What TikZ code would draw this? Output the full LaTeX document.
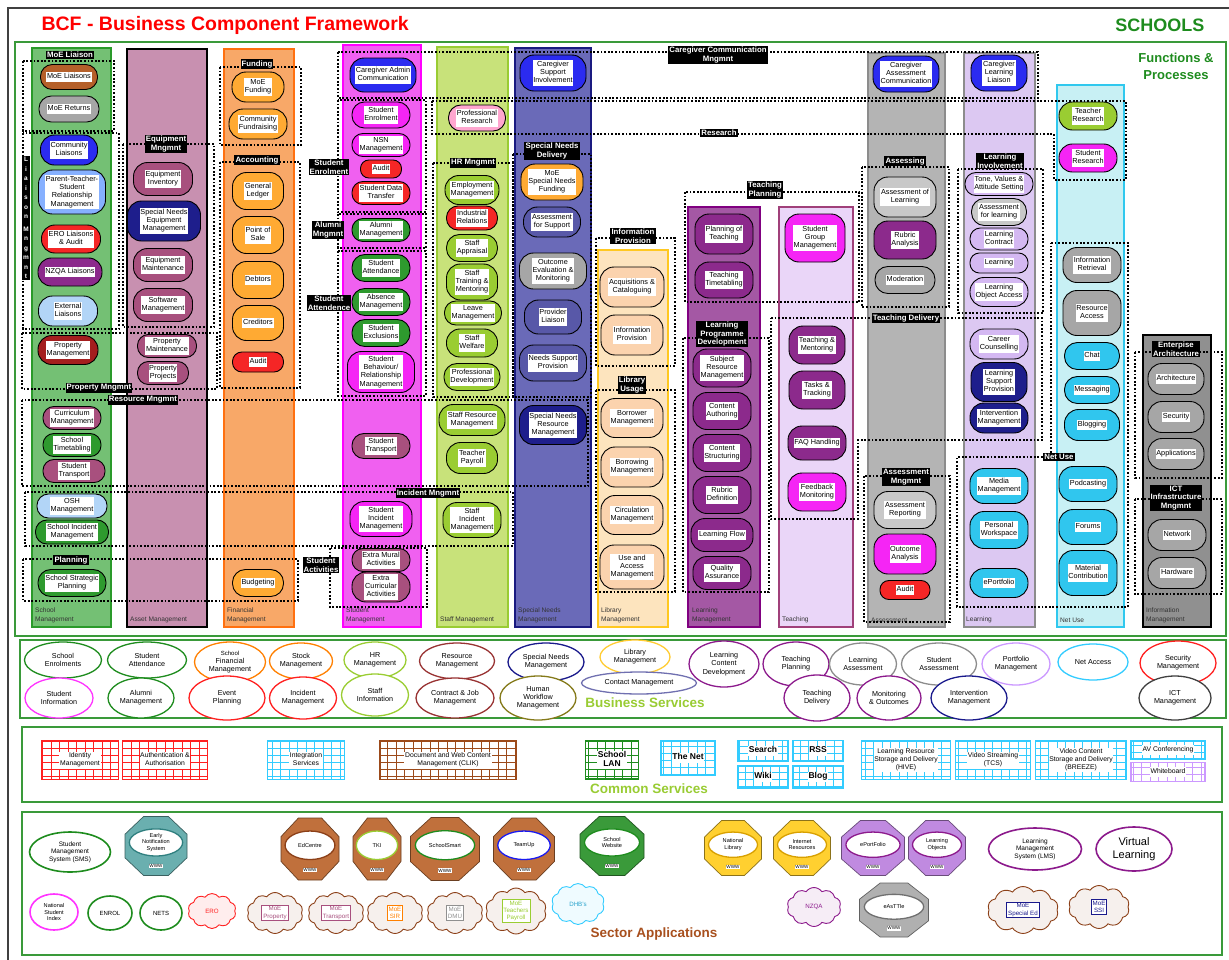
\documentclass[tikz,border=0pt]{standalone}
\usepackage{fontspec}
\setmainfont{Liberation Sans}
\usetikzlibrary{shapes.misc,shapes.geometric,shapes.symbols}

% ---------- palette ----------
\definecolor{pBrown}{HTML}{B5602A}
\definecolor{pGray}{HTML}{A6A6A6}
\definecolor{pGrayL}{HTML}{C8C8C8}
\definecolor{pBlue}{HTML}{2B2BF0}
\definecolor{pLtBlue}{HTML}{86B0FF}
\definecolor{pSky}{HTML}{B2D5F7}
\definecolor{pRed}{HTML}{F52626}
\definecolor{pPurple}{HTML}{8C2A8C}
\definecolor{pMauve}{HTML}{A8507E}
\definecolor{pDarkRed}{HTML}{A41E1E}
\definecolor{pGreen}{HTML}{2E9A2E}
\definecolor{pNavy}{HTML}{1E1E8C}
\definecolor{pNavyL}{HTML}{5858A8}
\definecolor{pOrange}{HTML}{FFAA33}
\definecolor{pMagenta}{HTML}{F525F5}
\definecolor{pYG}{HTML}{9ACD32}
\definecolor{pPink}{HTML}{FFA6CF}
\definecolor{pPeach}{HTML}{FBD3AE}
\definecolor{pLav}{HTML}{D4B8F2}
\definecolor{pCyan}{HTML}{30C6EE}
% column fills / borders
\definecolor{kGreenF}{HTML}{74C074}\definecolor{kGreenD}{HTML}{2A9A2A}
\definecolor{kAssetF}{HTML}{C890B0}
\definecolor{kFinF}{HTML}{F8A868}\definecolor{kFinD}{HTML}{FF7010}
\definecolor{kStudF}{HTML}{F060F0}\definecolor{kStudD}{HTML}{FF00FF}
\definecolor{kStaffF}{HTML}{C8E27A}\definecolor{kStaffD}{HTML}{99CC33}
\definecolor{kSNF}{HTML}{6A6AB8}\definecolor{kSND}{HTML}{1A1A80}
\definecolor{kLibF}{HTML}{FDE4BE}\definecolor{kLibD}{HTML}{FFC820}
\definecolor{kLMF}{HTML}{A458A4}\definecolor{kLMD}{HTML}{800080}
\definecolor{kTchF}{HTML}{EAD6F8}\definecolor{kTchD}{HTML}{A0407A}
\definecolor{kAsF}{HTML}{B4B4B4}\definecolor{kAsD}{HTML}{8C8C8C}
\definecolor{kLrnF}{HTML}{DCC8F2}
\definecolor{kNetF}{HTML}{C8F0F4}\definecolor{kNetD}{HTML}{30C8EE}
\definecolor{kInfF}{HTML}{909090}
% service borders
\definecolor{bGreen}{HTML}{1E8C1E}
\definecolor{bOrange}{HTML}{FF8000}
\definecolor{bYG}{HTML}{9ACD32}
\definecolor{bDarkRed}{HTML}{993333}
\definecolor{bNavy}{HTML}{1A1A8C}
\definecolor{bGold}{HTML}{FFCC33}
\definecolor{bPurple}{HTML}{8C1A8C}
\definecolor{bGray}{HTML}{8C8C8C}
\definecolor{bLav}{HTML}{CC99FF}
\definecolor{bCyan}{HTML}{33CCFF}
\definecolor{bRed}{HTML}{FF2020}
\definecolor{bMagenta}{HTML}{FF33FF}
\definecolor{bOlive}{HTML}{857A1A}
\definecolor{bSlate}{HTML}{7070B0}
\definecolor{bBlack}{HTML}{404040}
\definecolor{bBlue}{HTML}{1A1AF0}
\definecolor{bBrown}{HTML}{9C4A1A}
\definecolor{bMauve}{HTML}{A8507E}
\definecolor{bGrayT}{HTML}{909090}
% sector application fills
\definecolor{sBrown}{HTML}{C0703C}\definecolor{sBrownD}{HTML}{8C4018}
\definecolor{sTeal}{HTML}{6AAFAF}\definecolor{sTealD}{HTML}{2F7F7F}
\definecolor{sGreen}{HTML}{3A9A3A}
\definecolor{sGold}{HTML}{FFD030}\definecolor{sGoldD}{HTML}{D8A000}
\definecolor{sPurp}{HTML}{C08AE0}
\definecolor{sGray}{HTML}{B0B0B0}\definecolor{sGrayD}{HTML}{707070}
% titles and frames
\definecolor{tGreen}{HTML}{1E8C1E}
\definecolor{tYG}{HTML}{99CC33}
\definecolor{tBrown}{HTML}{A8501E}
\definecolor{fGreen}{HTML}{3A9A3A}

% ---------- helpers ----------
\newcommand\wb[1]{{\setlength\fboxsep{0.7pt}\colorbox{white}{\begin{tabular}{@{}c@{}}#1\end{tabular}}}}
\newcommand\pl[6]{\pgfmathsetmacro\rr{min(#4/2-0.6,14)}%
  \node[pill,fill=#5,minimum width=#3pt,minimum height=#4pt,rounded corners=\rr pt] (#1) at (#2) {\wb{#6}};}
\newcommand\tg[3]{\node[tag] (#1) at (#2) {#3};}
\newcommand\bsv[6]{\node[bsvc,draw=#5,minimum width=#3pt,minimum height=#4pt] (#1) at (#2) {#6};}
\newcommand\csb[6]{\node[csv,draw=#5,minimum width=#3pt,minimum height=#4pt,
  path picture={\draw[#5,line width=0.5pt] (path picture bounding box.south west) grid[xstep=8.5pt,ystep=7pt] (path picture bounding box.north east);}]
  (#1) at (#2) {\wb{#6}};}
\newcommand\octo[7]{%
  \begin{scope}[shift={(#2)}]
    \draw[fill=#5,draw=#5!55!black,line width=0.7pt]
      (-0.2*#3,-0.5*#4) -- (0.2*#3,-0.5*#4) -- (0.5*#3,-0.2*#4) -- (0.5*#3,0.2*#4)
      -- (0.2*#3,0.5*#4) -- (-0.2*#3,0.5*#4) -- (-0.5*#3,0.2*#4) -- (-0.5*#3,-0.2*#4) -- cycle;
    \node[appin,draw=#6,minimum width={0.86*#3},minimum height={0.46*#4}] (#1) at (0,-0.06*#4) {#7};
    \node[www] (#1w) at (0,0.34*#4) {WWW};
  \end{scope}}
\newcommand\clab[3]{\node[collab] (#1) at (#2) {#3};}

\tikzset{
  pill/.style={rectangle,draw=black,line width=0.9pt,inner sep=1pt,
    font=\fontsize{7.3}{8.3}\selectfont},
  colbox/.style={line width=1.8pt},
  grp/.style={draw=black,line width=1.2pt,dash pattern=on 1.8pt off 1.8pt},
  tag/.style={fill=black,text=white,font=\bfseries\fontsize{7.8}{8.6}\selectfont,
    inner sep=1.1pt,align=center},
  collab/.style={anchor=south west,align=left,inner sep=0pt,text=black!80,
    font=\fontsize{6.6}{8.6}\selectfont},
  bsvc/.style={ellipse,line width=1.3pt,fill=white,inner sep=0pt,align=center,
    font=\fontsize{7.2}{8.2}\selectfont},
  csv/.style={rectangle,line width=1.1pt,fill=white,inner sep=1pt,align=center,
    font=\fontsize{6.8}{7.8}\selectfont},
  frame/.style={draw=fGreen,line width=1.6pt},
  sectitle/.style={font=\bfseries\fontsize{13.5}{15}\selectfont},
  sapp/.style={ellipse,line width=1.6pt,fill=white,inner sep=0pt,align=center,
    font=\fontsize{6.5}{7.5}\selectfont},
  appin/.style={ellipse,fill=white,line width=1.3pt,inner sep=0pt,align=center,
    font=\fontsize{5.6}{6.4}\selectfont},
  www/.style={fill=white,inner sep=0.6pt,font=\fontsize{4.6}{5}\selectfont},
  cld/.style={cloud,cloud puffs=10,cloud puff arc=110,cloud ignores aspect,line width=0.9pt,inner sep=0pt,
    align=center,font=\fontsize{6.2}{7.2}\selectfont},
  cin/.style={rectangle,fill=white,line width=0.8pt,inner sep=1.4pt,align=center,
    font=\fontsize{6.2}{7.2}\selectfont},
}

\begin{document}
\begin{tikzpicture}[x=1pt,y=-1pt]
\useasboundingbox (0,0) rectangle (1229,959);
\fill[white] (0,0) rectangle (1229,959);
\draw[line width=1.2pt,black!75] (8,8) rectangle (1245,975);

% ---------- headings ----------
\node[anchor=west,text=red,font=\bfseries\fontsize{19.5}{21}\selectfont] (title) at (38,25) {BCF - Business Component Framework};
\node[anchor=east,text=tGreen,font=\bfseries\fontsize{18}{20}\selectfont] (schools) at (1208,25) {SCHOOLS};

% ---------- section frames ----------
\draw[frame] (15,42) rectangle (1226,636);
\draw[frame] (20,640) rectangle (1226,718);
\draw[frame] (22,727) rectangle (1222,802);
\draw[frame] (22,812) rectangle (1222,955);
\node[align=center,text=tGreen,font=\bfseries\fontsize{13}{17}\selectfont] (fp) at (1176,66) {Functions \&\\Processes};

% ---------- function columns ----------
\draw[colbox,draw=kGreenD,fill=kGreenF] (32,48) rectangle (111,627);
\draw[colbox,draw=black,fill=kAssetF] (127,49) rectangle (207,627);
\draw[colbox,draw=kFinD,fill=kFinF] (224,49) rectangle (294,627);
\draw[colbox,draw=kStudD,fill=kStudF] (343,45) rectangle (421,627);
\draw[colbox,draw=kStaffD,fill=kStaffF] (437,47) rectangle (508,627);
\draw[colbox,draw=kSND,fill=kSNF] (515,48) rectangle (591,627);
\draw[colbox,draw=kLibD,fill=kLibF] (598,250) rectangle (668,627);
\draw[colbox,draw=kLMD,fill=kLMF] (688,207) rectangle (760,627);
\draw[colbox,draw=kTchD,fill=kTchF] (779,207) rectangle (853,627);
\draw[colbox,draw=kAsD,fill=kAsF] (868,53) rectangle (945,627);
\draw[colbox,draw=kAsD,fill=kLrnF] (964,53) rectangle (1035,627);
\draw[colbox,draw=kNetD,fill=kNetF] (1057,85) rectangle (1124,627);
\draw[colbox,draw=black,fill=kInfF] (1143,335) rectangle (1211,627);

% column captions
\clab{lbSch}{35,623}{School\\Management}
\clab{lbAss}{130,623}{Asset Management}
\clab{lbFin}{227,623}{Financial\\Management}
\clab{lbStu}{346,623}{Student\\Management}
\clab{lbStf}{440,623}{Staff Management}
\clab{lbSN}{518,623}{Special Needs\\Management}
\clab{lbLib}{601,623}{Library\\Management}
\clab{lbLM}{692,623}{Learning\\Management}
\clab{lbTch}{782,623}{Teaching}
\clab{lbAsm}{871,623}{Assessment}
\clab{lbLrn}{966,623}{Learning}
\clab{lbNet}{1060,623}{Net Use}
\clab{lbInf}{1146,623}{Information\\Management}

% ---------- process groups ----------
\draw[grp] (23,61) rectangle (114,131);
\draw[grp] (23,133) rectangle (119,329);
\draw[grp] (123,144) rectangle (214,327);
\draw[grp] (22,333) rectangle (217,389);
\draw[grp] (22,400) rectangle (588,486);
\draw[grp] (25,492) rectangle (513,546);
\draw[grp] (23,559) rectangle (298,601);
\draw[grp] (220,67) rectangle (301,145);
\draw[grp] (220,162) rectangle (300,388);
\draw[grp] (338,52) rectangle (1038,98);
\draw[grp] (432,101) -- (1126,101) -- (1126,180) -- (1054,180) -- (1054,134) -- (432,134) -- cycle;
\draw[grp] (338,100) rectangle (426,212);
\draw[grp] (338,214) rectangle (426,248);
\draw[grp] (338,251) rectangle (426,396);
\draw[grp] (330,548) rectangle (427,607);
\draw[grp] (433,163) rectangle (513,397);
\draw[grp] (513,154) rectangle (591,397);
\draw[grp] (596,238) rectangle (675,366);
\draw[grp] (596,390) rectangle (675,592);
\draw[grp] (685,192) rectangle (859,302);
\draw[grp] (683,338) rectangle (769,592);
\draw[grp] (771,318) -- (1042,318) -- (1042,440) -- (858,440) -- (858,519) -- (771,519) -- cycle;
\draw[grp] (862,167) rectangle (949,307);
\draw[grp] (864,476) rectangle (950,622);
\draw[grp] (958,169) rectangle (1043,313);
\draw[grp] (1051,243) -- (1128,243) -- (1128,607) -- (957,607) -- (957,457) -- (1051,457) -- cycle;
\draw[grp] (1135,352) rectangle (1222,478);
\draw[grp] (1135,499) rectangle (1222,594);

% ---------- School Management ----------
\pl{moeL}{69,77}{57}{25}{pBrown}{MoE Liaisons}
\pl{moeR}{69,109}{60}{26}{pGray}{MoE Returns}
\pl{comL}{69,150}{57}{30}{pBlue}{Community\\Liaisons}
\pl{ptsr}{72,192}{67}{44}{pLtBlue}{Parent-Teacher-\\Student\\Relationship\\Management}
\pl{eroL}{71,239}{59}{28}{pRed}{ERO Liaisons\\\& Audit}
\pl{nzqaL}{70,272}{64}{28}{pPurple}{NZQA Liaisons}
\pl{extL}{68,311}{59}{30}{pSky}{External\\Liaisons}
\pl{propM}{68,350}{60}{29}{pDarkRed}{Property\\Management}
\pl{currM}{72,418}{58}{23}{pMauve}{Curriculum\\Management}
\pl{schTT}{72,445}{58}{23}{pGreen}{School\\Timetabling}
\pl{stTrA}{74,471}{62}{23}{pMauve}{Student\\Transport}
\pl{oshM}{72,506}{70}{24}{pSky}{OSH\\Management}
\pl{schInc}{72,532}{73}{24}{pGreen}{School Incident\\Management}
\pl{schSP}{72,583}{68}{27}{pGreen}{School Strategic\\Planning}

% ---------- Asset Management ----------
\pl{eqInv}{163,179}{59}{33}{pMauve}{Equipment\\Inventory}
\pl{snEq}{164,221}{73}{40}{pNavy}{Special Needs\\Equipment\\Management}
\pl{eqMnt}{163,265}{59}{33}{pMauve}{Equipment\\Maintenance}
\pl{swM}{163,305}{59}{33}{pMauve}{Software\\Management}
\pl{propMt}{167,346}{59}{23}{pMauve}{Property\\Maintenance}
\pl{propPj}{163,373}{51}{23}{pMauve}{Property\\Projects}

% ---------- Financial Management ----------
\pl{moeF}{258,87}{52}{30}{pOrange}{MoE\\Funding}
\pl{comF}{258,124}{58}{30}{pOrange}{Community\\Fundraising}
\pl{genL}{258,191}{51}{37}{pOrange}{General\\Ledger}
\pl{pos}{258,235}{51}{37}{pOrange}{Point of\\Sale}
\pl{debt}{258,280}{51}{37}{pOrange}{Debtors}
\pl{cred}{258,323}{51}{35}{pOrange}{Creditors}
\pl{audF}{258,362}{51}{20}{pRed}{Audit}
\pl{budg}{258,583}{51}{27}{pOrange}{Budgeting}

% ---------- Student Management ----------
\pl{cgAdm}{383,75}{66}{34}{pBlue}{Caregiver Admin\\Communication}
\pl{stEnr}{381,115}{58}{26}{pMagenta}{Student\\Enrolment}
\pl{nsn}{381,145}{58}{23}{pMagenta}{NSN\\Management}
\pl{audS}{381,169}{41}{18}{pRed}{Audit}
\pl{sdt}{381,193}{58}{23}{pRed}{Student Data\\Transfer}
\pl{alum}{381,230}{58}{23}{pGreen}{Alumni\\Management}
\pl{stAtt}{381,268}{58}{27}{pGreen}{Student\\Attendance}
\pl{abs}{381,302}{58}{27}{pGreen}{Absence\\Management}
\pl{excl}{381,333}{58}{27}{pGreen}{Student\\Exclusions}
\pl{behav}{381,372}{67}{41}{pMagenta}{Student\\Behaviour/\\Relationship\\Management}
\pl{stTrB}{381,446}{58}{25}{pMauve}{Student\\Transport}
\pl{stInc}{381,519}{62}{35}{pMagenta}{Student\\Incident\\Management}
\pl{xMural}{381,560}{58}{23}{pMauve}{Extra Mural\\Activities}
\pl{xCurr}{381,587}{58}{30}{pMauve}{Extra\\Curricular\\Activities}

% ---------- Staff Management ----------
\pl{profR}{477,118}{57}{26}{pPink}{Professional\\Research}
\pl{empM}{472,190}{54}{29}{pYG}{Employment\\Management}
\pl{indR}{472,218}{51}{24}{pRed}{Industrial\\Relations}
\pl{appr}{472,248}{51}{27}{pYG}{Staff\\Appraisal}
\pl{train}{472,282}{51}{36}{pYG}{Staff\\Training \&\\Mentoring}
\pl{leave}{473,313}{57}{24}{pYG}{Leave\\Management}
\pl{welf}{472,343}{51}{28}{pYG}{Staff\\Welfare}
\pl{profD}{472,377}{56}{27}{pYG}{Professional\\Development}
\pl{stRes}{472,420}{66}{31}{pYG}{Staff Resource\\Management}
\pl{payr}{472,458}{51}{31}{pYG}{Teacher\\Payroll}
\pl{stfInc}{472,520}{58}{35}{pYG}{Staff\\Incident\\Management}

% ---------- Special Needs Management ----------
\pl{cgSup}{553,73}{66}{36}{pBlue}{Caregiver\\Support\\Involvement}
\pl{moeSN}{552,182}{62}{36}{pOrange}{MoE\\Special Needs\\Funding}
\pl{asSup}{552,222}{57}{30}{pNavyL}{Assessment\\for Support}
\pl{outEv}{553,271}{67}{36}{pGray}{Outcome\\Evaluation \&\\Monitoring}
\pl{provL}{553,317}{57}{34}{pNavyL}{Provider\\Liaison}
\pl{needS}{553,363}{67}{36}{pNavyL}{Needs Support\\Provision}
\pl{snRes}{553,425}{67}{39}{pNavy}{Special Needs\\Resource\\Management}

% ---------- Library Management ----------
\pl{acq}{632,287}{64}{40}{pPeach}{Acquisitions \&\\Cataloguing}
\pl{infP}{632,335}{62}{40}{pPeach}{Information\\Provision}
\pl{borr}{632,418}{62}{39}{pPeach}{Borrower\\Management}
\pl{borw}{632,467}{62}{40}{pPeach}{Borrowing\\Management}
\pl{circ}{632,515}{62}{39}{pPeach}{Circulation\\Management}
\pl{useA}{632,567}{64}{44}{pPeach}{Use and\\Access\\Management}

% ---------- Learning Management ----------
\pl{plT}{724,234}{58}{40}{pPurple}{Planning of\\Teaching}
\pl{ttT}{724,280}{58}{36}{pPurple}{Teaching\\Timetabling}
\pl{subR}{722,368}{58}{38}{pPurple}{Subject\\Resource\\Management}
\pl{conA}{722,411}{58}{37}{pPurple}{Content\\Authoring}
\pl{conS}{722,453}{58}{37}{pPurple}{Content\\Structuring}
\pl{rubD}{722,495}{58}{37}{pPurple}{Rubric\\Definition}
\pl{lFlow}{722,535}{62}{33}{pPurple}{Learning Flow}
\pl{qa}{722,573}{58}{33}{pPurple}{Quality\\Assurance}

% ---------- Teaching ----------
\pl{sgm}{815,238}{60}{48}{pMagenta}{Student\\Group\\Management}
\pl{tMent}{817,345}{56}{38}{pPurple}{Teaching \&\\Mentoring}
\pl{tTrack}{817,390}{56}{38}{pPurple}{Tasks \&\\Tracking}
\pl{faq}{817,443}{58}{34}{pPurple}{FAQ Handling}
\pl{feed}{817,492}{58}{38}{pMagenta}{Feedback\\Monitoring}

% ---------- Assessment ----------
\pl{cgAss}{906,74}{66}{36}{pBlue}{Caregiver\\Assessment\\Communication}
\pl{assL}{905,197}{62}{40}{pGrayL}{Assessment of\\Learning}
\pl{rubA}{905,240}{62}{38}{pPurple}{Rubric\\Analysis}
\pl{mod}{905,280}{60}{27}{pGray}{Moderation}
\pl{assR}{905,510}{62}{37}{pGrayL}{Assessment\\Reporting}
\pl{outA}{905,554}{62}{40}{pMagenta}{Outcome\\Analysis}
\pl{audA}{905,590}{50}{19}{pRed}{Audit}

% ---------- Learning ----------
\pl{cgLL}{999,73}{56}{36}{pBlue}{Caregiver\\Learning\\Liaison}
\pl{tone}{999,184}{68}{23}{pLav}{Tone, Values \&\\Attitude Setting}
\pl{assFL}{999,212}{55}{27}{pGrayL}{Assessment\\for learning}
\pl{lCon}{999,239}{58}{22}{pLav}{Learning\\Contract}
\pl{lrn}{999,263}{58}{20}{pLav}{Learning}
\pl{loa}{999,292}{58}{29}{pLav}{Learning\\Object Access}
\pl{career}{999,344}{58}{30}{pLav}{Career\\Counselling}
\pl{lsp}{999,382}{56}{39}{pNavy}{Learning\\Support\\Provision}
\pl{intv}{999,418}{58}{30}{pNavy}{Intervention\\Management}
\pl{media}{999,486}{58}{35}{pCyan}{Media\\Management}
\pl{pws}{999,530}{58}{37}{pCyan}{Personal\\Workspace}
\pl{eport}{999,583}{58}{29}{pCyan}{ePortfolio}

% ---------- Net Use ----------
\pl{tRes}{1088,116}{58}{28}{pYG}{Teacher\\Research}
\pl{sRes}{1088,158}{58}{28}{pMagenta}{Student\\Research}
\pl{infR}{1092,265}{58}{35}{pGray}{Information\\Retrieval}
\pl{resA}{1092,313}{58}{45}{pGray}{Resource\\Access}
\pl{chat}{1092,356}{55}{27}{pCyan}{Chat}
\pl{msg}{1092,390}{55}{27}{pCyan}{Messaging}
\pl{blog}{1092,425}{55}{31}{pCyan}{Blogging}
\pl{pod}{1088,484}{58}{35}{pCyan}{Podcasting}
\pl{forum}{1088,527}{58}{35}{pCyan}{Forums}
\pl{matC}{1088,573}{58}{45}{pCyan}{Material\\Contribution}

% ---------- Information Management ----------
\pl{arch}{1176,379}{56}{31}{pGray}{Architecture}
\pl{secu}{1176,417}{56}{31}{pGray}{Security}
\pl{appl}{1176,454}{56}{31}{pGray}{Applications}
\pl{netw}{1177,535}{58}{31}{pGray}{Network}
\pl{hard}{1177,573}{58}{31}{pGray}{Hardware}

% ---------- group captions ----------
\tg{tMoe}{70,55}{MoE Liaison}
\node[tag,text width=6pt,inner sep=1pt,font=\bfseries\fontsize{6.5}{9.5}\selectfont] (tLiaison) at (26,218)
  {L\\i\\a\\i\\s\\o\\n\\[3pt]M\\n\\g\\m\\n\\t};
\tg{tEquip}{166,144}{Equipment\\Mngmnt}
\tg{tProp}{99,388}{Property Mngmnt}
\tg{tResM}{143,400}{Resource Mngmnt}
\tg{tInc}{428,493}{Incident Mngmnt}
\tg{tPlan}{71,560}{Planning}
\tg{tFund}{257,64}{Funding}
\tg{tAcc}{257,160}{Accounting}
\tg{tCare}{718,55}{Caregiver Communication\\Mngmnt}
\tg{tRsch}{719,133}{Research}
\tg{tEnr}{329,167}{Student\\Enrolment}
\tg{tAlum}{328,230}{Alumni\\Mngmnt}
\tg{tAtt}{329,303}{Student\\Attendence}
\tg{tAct}{321,565}{Student\\Activities}
\tg{tHR}{473,163}{HR Mngmnt}
\tg{tSND}{552,151}{Special Needs\\Delivery}
\tg{tInfP}{633,236}{Information\\Provision}
\tg{tLibU}{632,385}{Library\\Usage}
\tg{tTPlan}{765,190}{Teaching\\Planning}
\tg{tLPD}{722,334}{Learning\\Programme\\Development}
\tg{tTDel}{906,318}{Teaching Delivery}
\tg{tAssg}{905,161}{Assessing}
\tg{tAsM}{906,477}{Assessment\\Mngmnt}
\tg{tLInv}{1000,161}{Learning\\Involvement}
\tg{tNet}{1059,457}{Net Use}
\tg{tEA}{1176,349}{Enterpise\\Architecture}
\tg{tICT}{1176,498}{ICT\\Infrastructure\\Mngmnt}

% ---------- Business Services ----------
\bsv{bsEnrol}{63,660}{77}{36}{bGreen}{School\\Enrolments}
\bsv{bsAtt}{147,660}{79}{36}{bGreen}{Student\\Attendance}
\bsv{bsFin}{230,662}{71}{40}{bOrange}{\fontsize{6}{6.8}\selectfont School\\Financial\\Management}
\bsv{bsStock}{301,661}{63}{36}{bOrange}{Stock\\Management}
\bsv{bsHR}{375,660}{62}{36}{bYG}{HR\\Management}
\bsv{bsRes}{457,661}{75}{36}{bDarkRed}{Resource\\Management}
\bsv{bsSN}{546,662}{76}{38}{bNavy}{Special Needs\\Management}
\bsv{bsLib}{635,657}{70}{34}{bGold}{Library\\Management}
\bsv{bsLCD}{724,664}{70}{46}{bPurple}{Learning\\Content\\Development}
\bsv{bsTP}{796,664}{66}{44}{bPurple}{Teaching\\Planning}
\bsv{bsLA}{863,664}{67}{42}{bGray}{Learning\\Assessment}
\bsv{bsSA}{939,664}{75}{42}{bGray}{Student\\Assessment}
\bsv{bsPort}{1016,664}{68}{42}{bLav}{Portfolio\\Management}
\bsv{bsNet}{1093,662}{70}{36}{bCyan}{Net Access}
\bsv{bsSec}{1178,663}{76}{44}{bRed}{Security\\Management}
\bsv{bsInfo}{59,698}{68}{40}{bMagenta}{Student\\Information}
\bsv{bsAlum}{141,698}{66}{40}{bGreen}{Alumni\\Management}
\bsv{bsEvent}{227,698}{76}{44}{bRed}{Event\\Planning}
\bsv{bsInc}{303,698}{67}{42}{bRed}{Incident\\Management}
\bsv{bsStaff}{375,695}{67}{42}{bYG}{Staff\\Information}
\bsv{bsCJ}{455,698}{78}{40}{bDarkRed}{Contract \& Job\\Management}
\bsv{bsHW}{538,698}{76}{44}{bOlive}{Human\\Workflow\\Management}
\bsv{bsContact}{639,683}{115}{22}{bSlate}{Contact Management}
\bsv{bsTD}{817,698}{66}{46}{bPurple}{Teaching\\Delivery}
\bsv{bsMon}{889,698}{64}{44}{bPurple}{Monitoring\\\& Outcomes}
\bsv{bsInt}{969,698}{76}{44}{bNavy}{Intervention\\Management}
\bsv{bsICT}{1175,698}{72}{44}{bBlack}{ICT\\Management}
\node[sectitle,text=tYG] (bsTitle) at (645,703) {Business Services};

% ---------- Common Services ----------
\csb{csId}{80,760}{77}{39}{bRed}{Identity\\Management}
\csb{csAuth}{165,760}{85}{39}{bRed}{Authentication \&\\Authorisation}
\csb{csInt}{306,760}{77}{39}{bCyan}{Integration\\Services}
\csb{csDoc}{448,760}{136}{39}{bBrown}{Document and Web Content\\Management (CLIK)}
\csb{csLAN}{612,760}{53}{38}{bGreen}{\bfseries\fontsize{8.5}{9.5}\selectfont School\\\bfseries\fontsize{8.5}{9.5}\selectfont LAN}
\csb{csNet}{688,758}{54}{34}{bCyan}{\bfseries\fontsize{8.5}{9.5}\selectfont The Net}
\csb{csSearch}{763,751}{50}{21}{bCyan}{\bfseries\fontsize{8.5}{9.5}\selectfont Search}
\csb{csRSS}{818,751}{50}{21}{bCyan}{\bfseries\fontsize{8.5}{9.5}\selectfont RSS}
\csb{csWiki}{763,777}{50}{22}{bCyan}{\bfseries\fontsize{8.5}{9.5}\selectfont Wiki}
\csb{csBlog}{818,777}{50}{22}{bCyan}{\bfseries\fontsize{8.5}{9.5}\selectfont Blog}
\csb{csHive}{906,760}{89}{39}{bCyan}{Learning Resource\\Storage and Delivery\\(HIVE)}
\csb{csTCS}{993,760}{75}{39}{bCyan}{Video Streaming\\(TCS)}
\csb{csBreeze}{1081,760}{91}{39}{bCyan}{Video Content\\Storage and Delivery\\(BREEZE)}
\csb{csAV}{1168,750}{74}{18}{bCyan}{AV Conferencing}
\csb{csWB}{1168,772}{74}{19}{bLav}{Whiteboard}
\node[sectitle,text=tYG] (csTitle) at (649,789) {Common Services};

% ---------- Sector Applications ----------
\node[sapp,draw=bGreen,minimum width=81pt,minimum height=40pt] (sms) at (70,852) {Student\\Management\\System (SMS)};
\octo{ens}{156,846}{62}{59}{sTeal}{sTealD}{Early\\Notification\\System}
\octo{edc}{310,849}{58}{62}{sBrown}{sBrownD}{EdCentre}
\octo{tki}{377,849}{48}{62}{sBrown}{bYG}{TKI}
\octo{ssm}{445,849}{69}{63}{sBrown}{bGreen}{SchoolSmart}
\octo{tmu}{524,849}{61}{62}{sBrown}{bBlue}{TeamUp}
\octo{swb}{612,846}{64}{59}{sGreen}{bGreen}{School\\Website}
\octo{nlib}{733,848}{57}{55}{sGold}{sGoldD}{National\\Library}
\octo{inr}{802,848}{57}{55}{sGold}{sGoldD}{Internet\\Resources}
\octo{epf}{873,848}{63}{55}{sPurp}{bPurple}{ePortFolio}
\octo{lob}{937,848}{57}{55}{sPurp}{bPurple}{Learning\\Objects}
\node[sapp,draw=bPurple,minimum width=93pt,minimum height=42pt] (lms) at (1035,849) {Learning\\Management\\System (LMS)};
\node[sapp,draw=bPurple,minimum width=76pt,minimum height=44pt,font=\fontsize{11}{12.5}\selectfont] (vl) at (1134,849) {Virtual\\Learning};

\node[sapp,draw=bMagenta,minimum width=48pt,minimum height=36pt,font=\fontsize{5.6}{6.6}\selectfont] (nsi) at (54,912) {National\\Student\\Index};
\node[sapp,draw=bGreen,minimum width=44pt,minimum height=34pt,font=\fontsize{6}{7}\selectfont] (enrol) at (110,913) {ENROL};
\node[sapp,draw=bGreen,minimum width=42pt,minimum height=34pt,font=\fontsize{6}{7}\selectfont] (nets) at (161,913) {NETS};

\node[cld,draw=bRed,fill=bRed!8,minimum width=48pt,minimum height=35pt,text=bRed] (ero) at (212,911) {ERO};
\node[cld,draw=sBrownD,fill=sBrownD!8,minimum width=56pt,minimum height=41pt] (mProp) at (275,913) {};
\node[cin,draw=bMauve,text=bMauve] (mPropT) at (275,913) {MoE\\Property};
\node[cld,draw=sBrownD,fill=sBrownD!8,minimum width=56pt,minimum height=41pt] (mTran) at (336,913) {};
\node[cin,draw=bMauve,text=bMauve] (mTranT) at (336,913) {MoE\\Transport};
\node[cld,draw=sBrownD,fill=sBrownD!8,minimum width=56pt,minimum height=41pt] (mSir) at (395,913) {};
\node[cin,draw=bOrange,text=bOrange] (mSirT) at (395,913) {MoE\\SIR};
\node[cld,draw=sBrownD,fill=sBrownD!8,minimum width=56pt,minimum height=41pt] (mDmu) at (455,913) {};
\node[cin,draw=bGrayT,text=bGrayT] (mDmuT) at (455,913) {MoE\\DMU};
\node[cld,draw=sBrownD,fill=sBrownD!8,minimum width=61pt,minimum height=46pt] (mPay) at (516,911) {};
\node[cin,draw=bYG,text=bYG] (mPayT) at (516,911) {MoE\\Teachers\\Payroll};
\node[cld,draw=bCyan,fill=bCyan!8,minimum width=53pt,minimum height=41pt,text=bCyan!80!black] (dhb) at (578,904) {DHB's};
\node[sectitle,text=tBrown] (saTitle) at (654,934) {Sector Applications};
\node[cld,draw=bPurple,fill=bPurple!8,minimum width=54pt,minimum height=39pt,text=bPurple] (nzqa) at (814,907) {NZQA};
\octo{eas}{894,910}{69}{54}{sGray}{sGrayD}{eAsTTle}
\node[cld,draw=sBrownD,fill=sBrownD!8,minimum width=71pt,minimum height=47pt] (mSpEd) at (1023,910) {};
\node[cin,draw=bNavy,text=bNavy] (mSpEdT) at (1023,910) {MoE\\Special Ed};
\node[cld,draw=sBrownD,fill=sBrownD!8,minimum width=61pt,minimum height=43pt] (mSsi) at (1099,907) {};
\node[cin,draw=bNavy,text=bNavy] (mSsiT) at (1099,907) {MoE\\SSI};

\end{tikzpicture}
\end{document}
